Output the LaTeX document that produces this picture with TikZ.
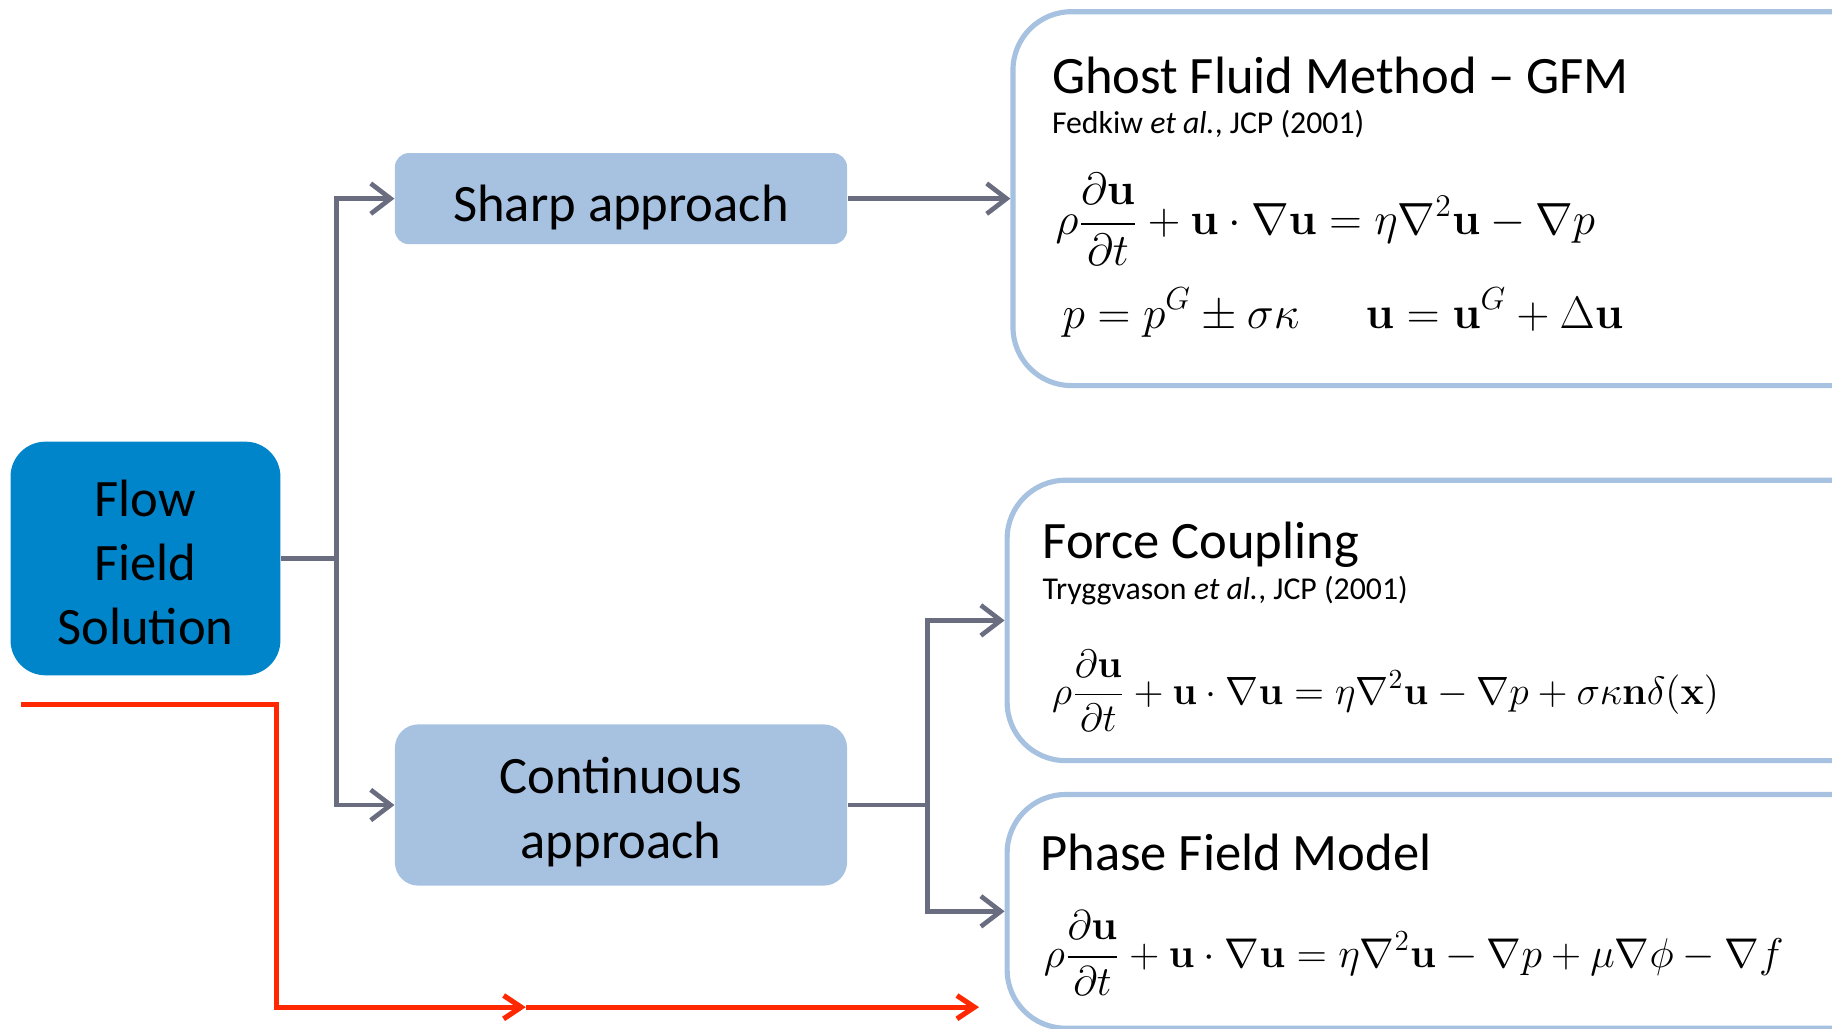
\RequirePackage{fix-cm}
\documentclass[tikz,border=0pt]{standalone}
\usepackage[no-math]{fontspec}
\setmainfont{Carlito}
\usepackage{amsmath}
\usetikzlibrary{arrows.meta}
\definecolor{flowblue}{RGB}{0,133,202}
\definecolor{lightblue}{RGB}{167,193,224}
\definecolor{conngray}{RGB}{106,109,128}
\definecolor{redline}{RGB}{255,40,0}
\begin{document}
\begin{tikzpicture}[x=0.5pt,y=-0.5pt,
  bigtext/.style={font=\fontsize{22.5}{27.5}\selectfont},
  subtext/.style={font=\fontsize{13.6}{16}\selectfont},
  txt/.style={inner sep=0pt, anchor=base west},
  boxtext/.style={bigtext, align=center, inner sep=0pt},
  approachbox/.style={draw=none, fill=lightblue, inner sep=0pt},
  methodbox/.style={draw=lightblue, line width=2.2pt, fill=white, rounded corners=25pt, inner sep=0pt},
  conn/.style={draw=conngray, line width=2pt},
  connarrow/.style={conn, -{Straight Barb[length=8.5pt,width=13pt,line width=2pt]}},
  redarrow/.style={draw=redline, line width=2.2pt, -{Straight Barb[length=7.5pt,width=10pt,line width=2.2pt]}}
]
\useasboundingbox (0,0) rectangle (1568,880);
\clip (0,0) rectangle (1568,880);

% boxes
\node[fill=flowblue, rounded corners=15pt, minimum width=115.5pt, minimum height=100pt, inner sep=0pt] (flow) at (124.5,478) {};
\node[approachbox, rounded corners=6pt, minimum width=193.5pt, minimum height=39pt] (sharp) at (531.5,170) {};
\node[approachbox, rounded corners=10pt, minimum width=193.5pt, minimum height=69pt] (cont) at (531.5,689) {};

\node[methodbox, minimum width=386.5pt, minimum height=160pt] (gfm) at (1253.5,170) {};
\node[methodbox, minimum width=389pt, minimum height=120pt] (fc) at (1251,531) {};
\node[methodbox, minimum width=389pt, minimum height=100pt] (pf) at (1251,780) {};

% box texts
\node[boxtext] (flowtext) at ([yshift=-1.6pt]flow.center) {Flow\\Field\\Solution};
\node[boxtext] (sharptext) at ([yshift=-4pt]sharp.center) {Sharp approach};
\node[boxtext] (conttext) at ([yshift=-3pt]cont.center) {Continuous\\approach};

% GFM contents
\node[txt, bigtext] (gfmt) at (900,80) {Ghost Fluid Method -- GFM};
\node[txt, subtext] (gfms) at (900,114) {Fedkiw \textit{et al.}, JCP (2001)};
\node[txt, font=\fontsize{19.3}{23}\selectfont] (gfme1) at (903,201) {$\displaystyle \rho\frac{\partial\mathbf{u}}{\partial t}+\mathbf{u}\cdot\nabla\mathbf{u}=\eta\nabla^2\mathbf{u}-\nabla p$};
\node[txt, font=\fontsize{19.5}{23}\selectfont] (gfme2) at (909,281) {$\displaystyle p=p^G\pm\sigma\kappa\hspace{1.45em} \mathbf{u}=\mathbf{u}^G+\Delta\mathbf{u}$};

% Force coupling contents
\node[txt, bigtext] (fct) at (892,478) {Force Coupling};
\node[txt, subtext] (fcs) at (892,513) {Tryggvason \textit{et al.}, JCP (2001)};
\node[txt, font=\fontsize{16.9}{20}\selectfont] (fce) at (900,603) {$\displaystyle \rho\frac{\partial\mathbf{u}}{\partial t}+\mathbf{u}\cdot\nabla\mathbf{u}=\eta\nabla^2\mathbf{u}-\nabla p+\sigma\kappa\mathbf{n}\delta(\mathbf{x})$};

% Phase field contents
\node[txt, bigtext] (pft) at (890,745) {Phase Field Model};
\node[txt, font=\fontsize{17.8}{21}\selectfont] (pfe) at (893,828) {$\displaystyle \rho\frac{\partial\mathbf{u}}{\partial t}+\mathbf{u}\cdot\nabla\mathbf{u}=\eta\nabla^2\mathbf{u}-\nabla p+\mu\nabla\phi-\nabla f$};

% connectors
\coordinate (j1) at (288,478);
\coordinate (j2) at (794,689);
\draw[conn] (flow.east) -- (j1);
\draw[connarrow] (j1) |- (sharp.west);
\draw[connarrow] (j1) |- (cont.west);
\draw[connarrow] (sharp.east) -- (gfm.west);
\draw[conn] (cont.east) -- (j2);
\draw[connarrow] (j2) |- (fc.west);
\draw[connarrow] (j2) |- (pf.west);

% red line
\coordinate (r0) at (18,603);
\coordinate (r1) at (237,603);
\coordinate (r2) at (237,862);
\coordinate (rm) at (450,862);
\coordinate (rend) at (838,862);
\draw[redarrow] (r0) -- (r1) -- (r2) -- (rm);
\draw[redarrow] (rm) -- (rend);
\end{tikzpicture}
\end{document}
